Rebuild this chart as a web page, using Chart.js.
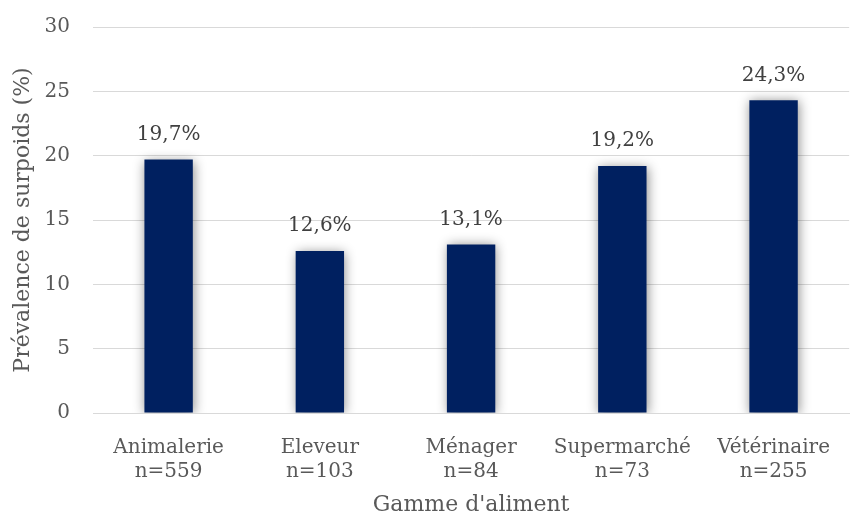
<!DOCTYPE html>
<html>
<head>
<meta charset="utf-8">
<script src="https://cdn.jsdelivr.net/npm/chart.js@4"></script>
<style>
  html, body { margin: 0; padding: 0; background: #ffffff; }
  #wrap { width: 853px; height: 520px; }
</style>
</head>
<body>
<div id="wrap"><canvas id="prevChart" width="853" height="520"></canvas></div>
<script>
// Data
const categories = ['Animalerie', 'Eleveur', 'Ménager', 'Supermarché', 'Vétérinaire'];
const sampleSizes = ['n=559', 'n=103', 'n=84', 'n=73', 'n=255'];
const prevalence = [19.7, 12.6, 13.1, 19.2, 24.3];
const yTicks = [0, 5, 10, 15, 20, 25, 30];

const labels = categories.map((c, i) => [c, sampleSizes[i]]);
const fontFamily = "'DejaVu Serif', 'Liberation Serif', serif";

// soft shadow behind the bars
const barShadow = {
    id: 'barShadow',
    beforeDatasetDraw(chart) {
        const c = chart.ctx;
        c.save();
        c.shadowColor = 'rgba(0, 0, 0, 0.45)';
        c.shadowBlur = 11;
        c.shadowOffsetX = 1;
        c.shadowOffsetY = 1;
    },
    afterDatasetDraw(chart) {
        chart.ctx.restore();
    }
};

// value labels above each bar, "19,7%" style
const valueLabels = {
    id: 'valueLabels',
    afterDatasetsDraw(chart) {
        const c = chart.ctx;
        const meta = chart.getDatasetMeta(0);
        c.save();
        c.font = '20px ' + fontFamily;
        c.fillStyle = '#404040';
        c.textAlign = 'center';
        c.textBaseline = 'middle';
        meta.data.forEach((bar, i) => {
            const txt = prevalence[i].toFixed(1).replace('.', ',') + '%';
            c.fillText(txt, bar.x, bar.y - 25);
        });
        c.restore();
    }
};

new Chart(document.getElementById('prevChart').getContext('2d'), {
    type: 'bar',
    data: {
        labels: labels,
        datasets: [{
            data: prevalence,
            backgroundColor: '#002060',
            borderWidth: 0,
            barPercentage: 0.32,
            categoryPercentage: 1.0
        }]
    },
    options: {
        responsive: false,
        animation: false,
        layout: { padding: { left: 8, right: 0, top: 27, bottom: 2 } },
        plugins: {
            legend: { display: false },
            tooltip: { enabled: false }
        },
        scales: {
            x: {
                afterFit(scale) { scale.height = 105; },
                grid: { display: false, drawTicks: false },
                border: { color: '#d9d9d9', width: 1 },
                ticks: {
                    color: '#595959',
                    font: { family: fontFamily, size: 20 },
                    padding: 23,
                    maxRotation: 0
                },
                title: {
                    display: true,
                    text: "Gamme d'aliment",
                    color: '#595959',
                    font: { family: fontFamily, size: 22 },
                    padding: { top: 0, bottom: 0 }
                }
            },
            y: {
                min: 0,
                max: 30,
                afterBuildTicks(axis) {
                    axis.ticks = yTicks.map(v => ({ value: v }));
                },
                afterFit(scale) {
                    scale.width = 85;
                    scale.paddingTop = 0;
                },
                grid: { color: '#d9d9d9', lineWidth: 1, drawTicks: false },
                border: { display: false },
                ticks: {
                    color: '#595959',
                    font: { family: fontFamily, size: 20 },
                    padding: 23
                },
                title: {
                    display: true,
                    text: 'Prévalence de surpoids (%)',
                    color: '#595959',
                    font: { family: fontFamily, size: 22 },
                    padding: { top: 2, bottom: 0 }
                }
            }
        }
    },
    plugins: [barShadow, valueLabels]
});
</script>
</body>
</html>
